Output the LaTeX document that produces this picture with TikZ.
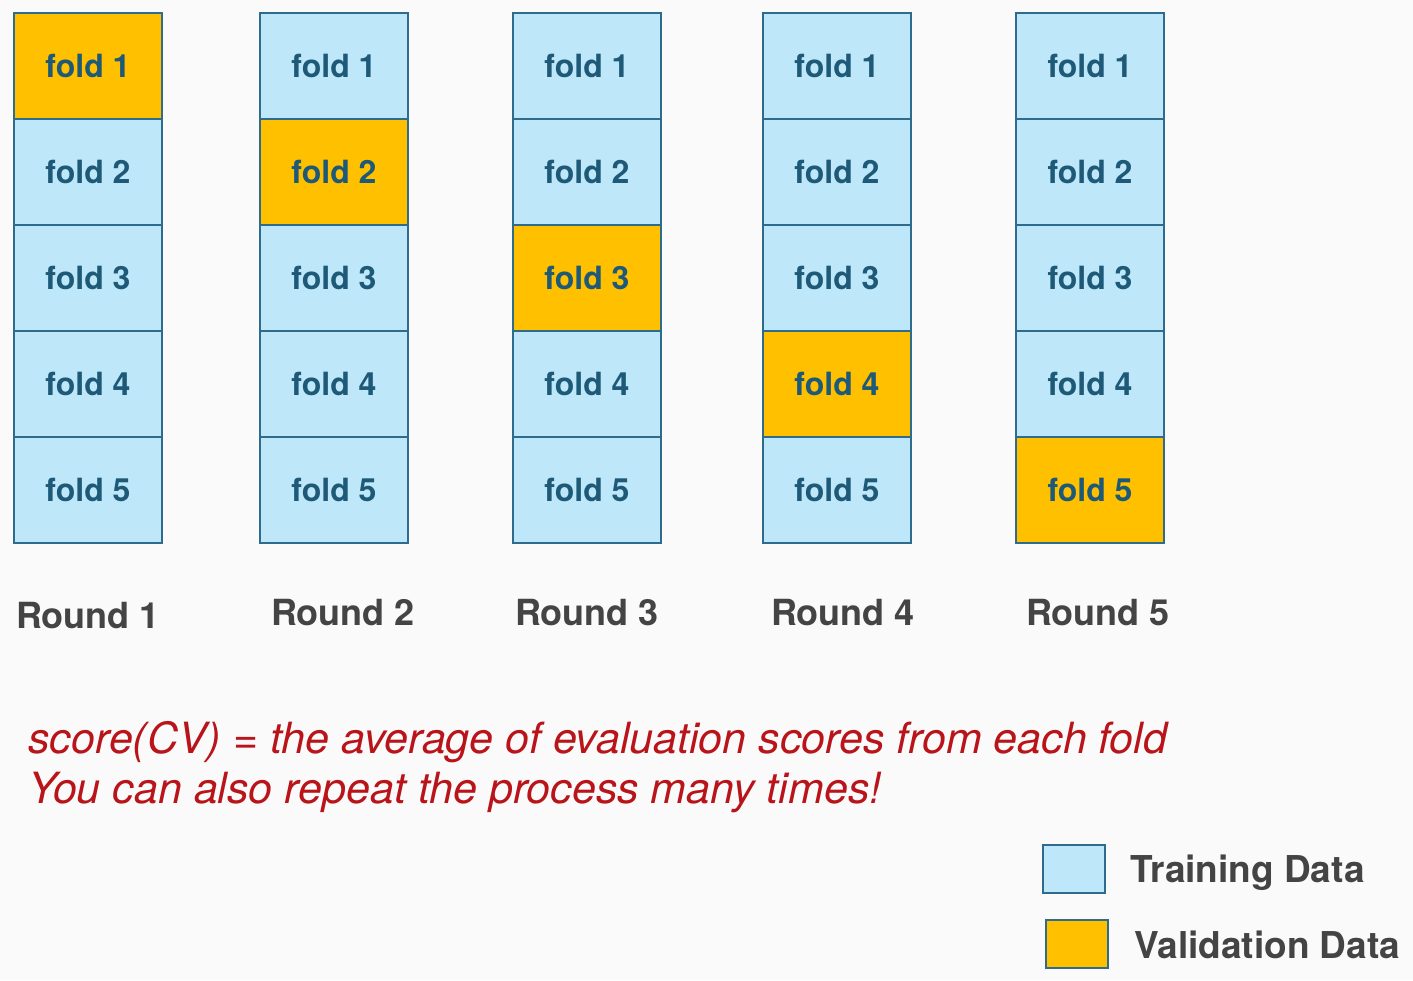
\documentclass[tikz,border=0pt]{standalone}
\usepackage{fontspec}
\setmainfont{TeX Gyre Heros}
\definecolor{trainblue}{HTML}{BEE8FA}
\definecolor{validorange}{HTML}{FFC000}
\definecolor{boxedge}{HTML}{2F6B8C}
\definecolor{foldtext}{HTML}{1E5A78}
\definecolor{roundgray}{HTML}{444444}
\definecolor{notered}{HTML}{B8141A}
\definecolor{paper}{HTML}{FAFAFA}
\tikzset{
  fold/.style={draw=boxedge, line width=1.1pt, minimum width=74pt, minimum height=53pt,
    inner sep=0pt, font=\fontsize{16}{18}\selectfont\bfseries, text=foldtext},
  train/.style={fold, fill=trainblue},
  valid/.style={fold, fill=validorange},
  roundlabel/.style={anchor=base, font=\fontsize{18}{21}\selectfont\bfseries, text=roundgray},
  keytext/.style={anchor=base west, inner sep=0pt, font=\fontsize{18.5}{21}\selectfont\bfseries, text=roundgray},
  note/.style={anchor=base west, inner sep=0pt, font=\fontsize{21.5}{24}\selectfont\itshape, text=notered}
}
\begin{document}
\begin{tikzpicture}[x=0.5pt, y=-0.5pt]
  \fill[paper] (0,0) rectangle (1413,980);
  \useasboundingbox (0,0) rectangle (1413,980);
  % five rounds, the validation fold moves down one step each round
  \foreach \r/\cx/\lx/\ly in {1/88/88/628, 2/334/343/625, 3/587/587/625, 4/837/843/625, 5/1090/1098/625} {
    \foreach \f in {1,...,5} {
      \ifnum\f=\r \def\kind{valid}\else\def\kind{train}\fi
      \node[\kind] (r\r f\f) at (\cx, {66+106*(\f-1)}) {fold \f};
    }
    \node[roundlabel] (round\r) at (\lx, \ly) {Round \r};
  }
  \node[note] (scoreline) at (28,753) {score(CV) = the average of evaluation scores from each fold};
  \node[note] (repeatline) at (28,803) {You can also repeat the process many times!};
  % legend
  \node[train, minimum width=31pt, minimum height=24pt] (trainkey) at (1074,869) {};
  \node[keytext] (traintext) at (1130,882) {Training Data};
  \node[valid, minimum width=31pt, minimum height=24pt] (validkey) at (1077,944) {};
  \node[keytext] (validtext) at (1134,958) {Validation Data};
\end{tikzpicture}
\end{document}
